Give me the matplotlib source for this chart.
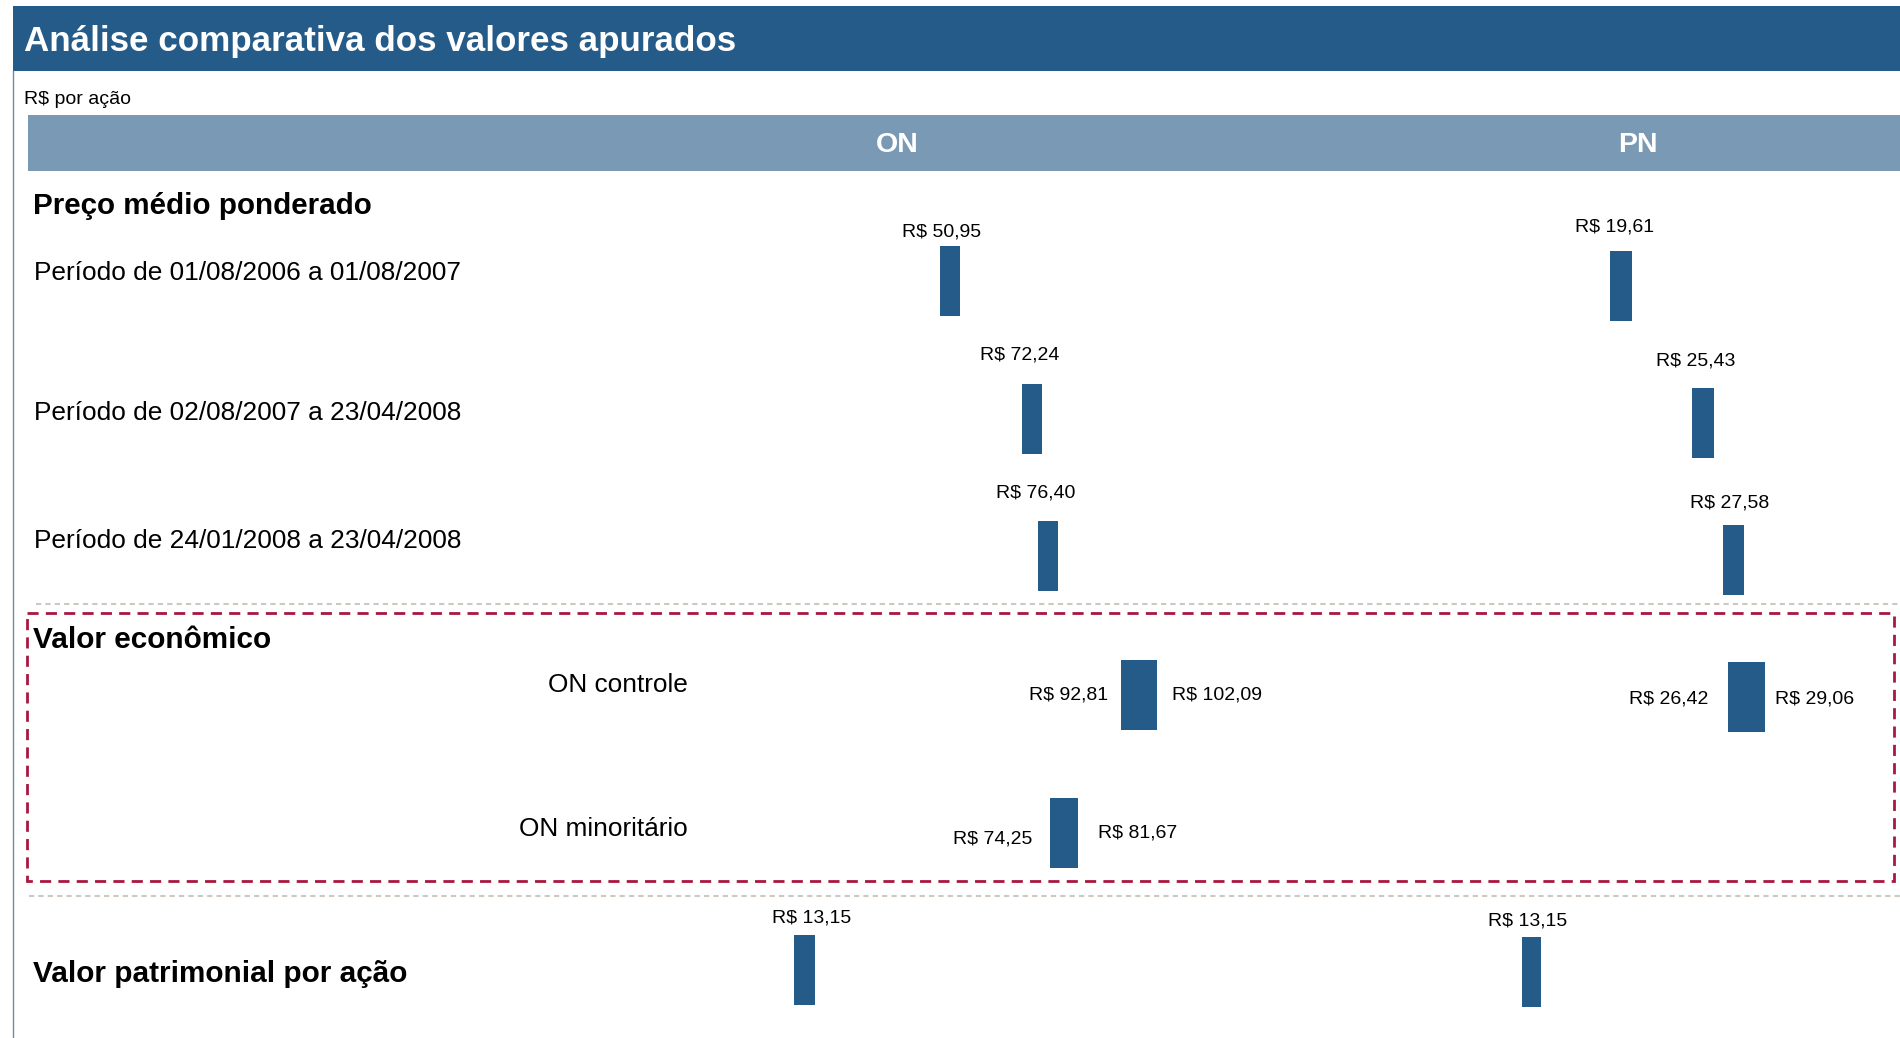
import matplotlib.pyplot as plt
from matplotlib.patches import Rectangle

plt.rcParams['font.family'] = ['Liberation Sans', 'DejaVu Sans']

# data
price_rows = ['Período de 01/08/2006 a 01/08/2007',
              'Período de 02/08/2007 a 23/04/2008',
              'Período de 24/01/2008 a 23/04/2008']
price_on = [50.95, 72.24, 76.40]
price_pn = [19.61, 25.43, 27.58]

ve_rows = ['ON controle', 'ON minoritário']
ve_on_low = [92.81, 74.25]
ve_on_high = [102.09, 81.67]
ve_pn_low = [26.42]
ve_pn_high = [29.06]

vp_on = [13.15]
vp_pn = [13.15]

BLUE = '#255b89'
HEAD = '#7a99b5'
RED = '#a8173f'
GREY = '#cfc8c0'
W, H = 1900, 1038


def brl(v):
    return 'R$ ' + f'{v:.2f}'.replace('.', ',')


fig = plt.figure(figsize=(19, 10.38), dpi=100)

# layout axes in pixel units
bg = fig.add_axes([0, 0, 1, 1])
bg.set_xlim(0, W)
bg.set_ylim(H, 0)
bg.axis('off')

bg.add_patch(Rectangle((13, 6), W - 13, 65, color=BLUE, lw=0))
bg.text(24, 41, 'Análise comparativa dos valores apurados', color='white',
        fontsize=25.2, fontweight='bold', va='center')
bg.plot([13, 13], [71, H], color='#6d8aa8', lw=1)
bg.text(24, 100, 'R$ por ação', fontsize=14, va='center')
bg.add_patch(Rectangle((28, 115), W - 28, 56, color=HEAD, lw=0))
bg.text(897, 144.5, 'ON', color='white', fontsize=20.5, fontweight='bold',
        ha='center', va='center')
bg.text(1638, 144.5, 'PN', color='white', fontsize=20.5, fontweight='bold',
        ha='center', va='center')

bg.text(33, 206, 'Preço médio ponderado', fontsize=21.3, fontweight='bold', va='center')
for lab, y in zip(price_rows, [273.5, 413.5, 540.5]):
    bg.text(34, y, lab, fontsize=18.9, va='center')

bg.plot([36, W], [604, 604], color=GREY, lw=1.5, ls=(0, (2.5, 2)))
bg.add_patch(Rectangle((27, 613), 1867, 268, fill=False, ec=RED, lw=2,
                       ls=(0, (4, 2.6))))
bg.text(33, 640.5, 'Valor econômico', fontsize=21.4, fontweight='bold', va='center')
for lab, y in zip(ve_rows, [684.5, 828.5]):
    bg.text(688, y, lab, fontsize=18.9, va='center', ha='right')

bg.plot([29, W], [896, 896], color=GREY, lw=1.5, ls=(0, (2.5, 2)))
bg.text(33, 974.5, 'Valor patrimonial por ação', fontsize=21.4, fontweight='bold',
        va='center')

# value axes: ON and PN each with their own R$ scale
x0_on, k_on = 764.4, 3.845
x0_pn, k_pn = 1355.8, 14.08
ax_on = fig.add_axes([x0_on / W, 0, (x0_pn - x0_on) / W, 1])
ax_on.set_xlim(0, (x0_pn - x0_on) / k_on)
ax_pn = fig.add_axes([x0_pn / W, 0, (W - x0_pn) / W, 1])
ax_pn.set_xlim(0, (W - x0_pn) / k_pn)
for a in (ax_on, ax_pn):
    a.set_ylim(H, 0)
    a.axis('off')
    a.patch.set_alpha(0)

bh = 70
fs = 14

# single-value bars (bar ends at the value)
on_y = [281, 418.5, 556]
pn_y = [285.5, 422.5, 560]
on_off = [(-8.5, -14), (-12.5, -28), (-12, -28)]
pn_off = [(-7, -23), (-7, -27), (-4, -22)]


def single(ax, vals, ys, offs, wpx, k):
    w = wpx / k
    ax.barh(ys, w, left=[v - w for v in vals], height=bh, color=BLUE, zorder=3)
    for v, y, (dx, dy) in zip(vals, ys, offs):
        ax.annotate(brl(v), (v - w / 2, y - bh / 2), xytext=(dx, -dy),
                    textcoords='offset pixels', ha='center', va='center',
                    fontsize=fs, annotation_clip=False)


single(ax_on, price_on, on_y, on_off, 20, k_on)
single(ax_pn, price_pn, pn_y, pn_off, 21.5, k_pn)
single(ax_on, vp_on, [970], [(7.5, -17)], 21, k_on)
single(ax_pn, vp_pn, [971.5], [(-3.5, -16)], 19, k_pn)


# range bars (valor econômico)
def ranged(ax, lows, highs, ys, gaps, dys):
    ax.barh(ys, [h - l for l, h in zip(lows, highs)], left=lows, height=bh,
            color=BLUE, zorder=3)
    for l, h, y, (gl, gr), (dl, dr) in zip(lows, highs, ys, gaps, dys):
        ax.annotate(brl(l), (l, y), xytext=(-gl, -dl), textcoords='offset pixels',
                    ha='right', va='center', fontsize=fs, annotation_clip=False)
        ax.annotate(brl(h), (h, y), xytext=(gr, -dr), textcoords='offset pixels',
                    ha='left', va='center', fontsize=fs, annotation_clip=False)


ranged(ax_on, ve_on_low, ve_on_high, [695, 832.5], [(13, 15), (18, 20)],
       [(0.5, 0.5), (6, 1)])
ranged(ax_pn, ve_pn_low, ve_pn_high, [696.5], [(19, 10)], [(2, 2)])

fig.savefig('out.png', dpi=100)
